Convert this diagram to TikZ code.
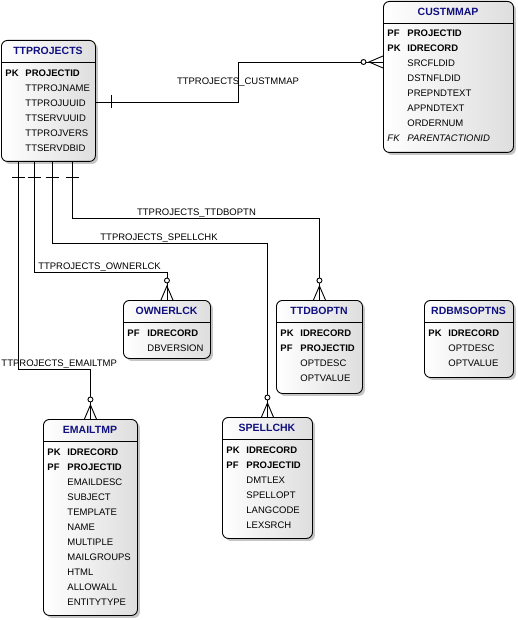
\documentclass[tikz,border=0pt]{standalone}
\usepackage{fontspec}
\setmainfont{Liberation Sans}
\usetikzlibrary{shadows}
\definecolor{titleblue}{RGB}{16,16,128}

\begin{document}
\begin{tikzpicture}[x=1pt, y=-1pt, line width=0.9pt,
  entity/.style={draw, rounded corners=6pt, left color=white, right color=black!13,
    drop shadow={shadow xshift=2.5pt, shadow yshift=-2.5pt, fill=black!45},
    anchor=north west, inner sep=0pt},
  enttitle/.style={font=\fontsize{10.5}{12}\selectfont\bfseries, text=titleblue, inner sep=0pt},
  keyrow/.style={font=\fontsize{9.5}{11}\selectfont\bfseries, anchor=base west, inner sep=0pt},
  fieldrow/.style={font=\fontsize{9.5}{11}\selectfont, anchor=base west, inner sep=0pt},
  fkrow/.style={font=\fontsize{9.5}{11}\selectfont\itshape, anchor=base west, inner sep=0pt},
  rel/.style={font=\fontsize{9.5}{11}\selectfont, anchor=base, inner sep=0pt},
  onebar/.pic={\draw (-6.5,16) -- (6.5,16);},
  crowfoot/.pic={\draw (-6,0) -- (0,-14) -- (6,0);
    \draw[fill=white] (0,-19.5) circle [radius=2.5pt];}]
\useasboundingbox (0,0) rectangle (518,620);

% Draw entity boxes
\node[entity, minimum width=94pt, minimum height=121pt] (ttprojects) at (1,40) {};
\node[entity, minimum width=130pt, minimum height=151pt] (custmmap) at (383,1) {};
\node[entity, minimum width=87pt, minimum height=58pt] (ownerlck) at (123,300) {};
\node[entity, minimum width=86pt, minimum height=93pt] (ttdboptn) at (276,300) {};
\node[entity, minimum width=89pt, minimum height=77pt] (rdbmsoptns) at (424,300) {};
\node[entity, minimum width=94pt, minimum height=196pt] (emailtmp) at (43,419) {};
\node[entity, minimum width=90pt, minimum height=121pt] (spellchk) at (222,417) {};

% Titles and separators
\node[enttitle] (ttprojects-t) at (48,51) {TTPROJECTS};
\draw (ttprojects.west |- 0,62) -- (ttprojects.east |- 0,62);
\node[enttitle] (custmmap-t) at (448,12) {CUSTMMAP};
\draw (custmmap.west |- 0,23) -- (custmmap.east |- 0,23);
\node[enttitle] (ownerlck-t) at (166.5,311) {OWNERLCK};
\draw (ownerlck.west |- 0,322) -- (ownerlck.east |- 0,322);
\node[enttitle] (ttdboptn-t) at (319,311) {TTDBOPTN};
\draw (ttdboptn.west |- 0,322) -- (ttdboptn.east |- 0,322);
\node[enttitle] (rdbmsoptns-t) at (468.5,311) {RDBMSOPTNS};
\draw (rdbmsoptns.west |- 0,322) -- (rdbmsoptns.east |- 0,322);
\node[enttitle] (emailtmp-t) at (90,430) {EMAILTMP};
\draw (emailtmp.west |- 0,441) -- (emailtmp.east |- 0,441);
\node[enttitle] (spellchk-t) at (267,428) {SPELLCHK};
\draw (spellchk.west |- 0,439) -- (spellchk.east |- 0,439);

% Columns
\foreach \k/\f/\s [count=\i from 0] in {PK/PROJECTID/keyrow, /TTPROJNAME/fieldrow,
    /TTPROJUUID/fieldrow, /TTSERVUUID/fieldrow, /TTPROJVERS/fieldrow, /TTSERVDBID/fieldrow}
  \node[\s] (ttprojects-\i) at (5,{76.5+15*\i}) {\makebox[20pt][l]{\k}\f};
\foreach \k/\f/\s [count=\i from 0] in {PF/PROJECTID/keyrow, PK/IDRECORD/keyrow,
    /SRCFLDID/fieldrow, /DSTNFLDID/fieldrow, /PREPNDTEXT/fieldrow, /APPNDTEXT/fieldrow,
    /ORDERNUM/fieldrow, FK/PARENTACTIONID/fkrow}
  \node[\s] (custmmap-\i) at (387,{37+15*\i}) {\makebox[20pt][l]{\k}\f};
\foreach \k/\f/\s [count=\i from 0] in {PF/IDRECORD/keyrow, /DBVERSION/fieldrow}
  \node[\s] (ownerlck-\i) at (127,{336.5+15*\i}) {\makebox[20pt][l]{\k}\f};
\foreach \k/\f/\s [count=\i from 0] in {PK/IDRECORD/keyrow, PF/PROJECTID/keyrow,
    /OPTDESC/fieldrow, /OPTVALUE/fieldrow}
  \node[\s] (ttdboptn-\i) at (280,{336.5+15*\i}) {\makebox[20pt][l]{\k}\f};
\foreach \k/\f/\s [count=\i from 0] in {PK/IDRECORD/keyrow, /OPTDESC/fieldrow, /OPTVALUE/fieldrow}
  \node[\s] (rdbmsoptns-\i) at (428,{336.5+15*\i}) {\makebox[20pt][l]{\k}\f};
\foreach \k/\f/\s [count=\i from 0] in {PK/IDRECORD/keyrow, PF/PROJECTID/keyrow,
    /EMAILDESC/fieldrow, /SUBJECT/fieldrow, /TEMPLATE/fieldrow, /NAME/fieldrow,
    /MULTIPLE/fieldrow, /MAILGROUPS/fieldrow, /HTML/fieldrow, /ALLOWALL/fieldrow,
    /ENTITYTYPE/fieldrow}
  \node[\s] (emailtmp-\i) at (47,{455.5+15*\i}) {\makebox[20pt][l]{\k}\f};
\foreach \k/\f/\s [count=\i from 0] in {PK/IDRECORD/keyrow, PF/PROJECTID/keyrow,
    /DMTLEX/fieldrow, /SPELLOPT/fieldrow, /LANGCODE/fieldrow, /LEXSRCH/fieldrow}
  \node[\s] (spellchk-\i) at (226,{453.5+15*\i}) {\makebox[20pt][l]{\k}\f};

% Relationships
\draw (ttprojects.east |- 0,102) -- (238,102) |- (custmmap.west |- 0,62);
\pic[rotate=90] at (ttprojects.east |- 0,102) {onebar};
\pic[rotate=90] at (custmmap.west |- 0,62) {crowfoot};
\node[rel] (custmmap-r) at (238,85) {TTPROJECTS\_CUSTMMAP};

\draw (ttprojects.south -| 72,0) |- (ttdboptn.north |- 0,218) -- (ttdboptn.north);
\pic at (ttprojects.south -| 72,0) {onebar};
\pic at (ttdboptn.north) {crowfoot};
\node[rel] (ttdboptn-r) at (196.5,215) {TTPROJECTS\_TTDBOPTN};

\draw (ttprojects.south -| 52,0) |- (spellchk.north |- 0,243) -- (spellchk.north);
\pic at (ttprojects.south -| 52,0) {onebar};
\pic at (spellchk.north) {crowfoot};
\node[rel] (spellchk-r) at (159,240) {TTPROJECTS\_SPELLCHK};

\draw (ttprojects.south -| 34,0) |- (ownerlck.north |- 0,272) -- (ownerlck.north);
\pic at (ttprojects.south -| 34,0) {onebar};
\pic at (ownerlck.north) {crowfoot};
\node[rel] (ownerlck-r) at (99.5,269) {TTPROJECTS\_OWNERLCK};

\draw (ttprojects.south -| 18,0) |- (emailtmp.north |- 0,369) -- (emailtmp.north);
\pic at (ttprojects.south -| 18,0) {onebar};
\pic at (emailtmp.north) {crowfoot};
\node[rel, anchor=base west] (emailtmp-r) at (1,366) {TTPROJECTS\_EMAILTMP};
\end{tikzpicture}
\end{document}
